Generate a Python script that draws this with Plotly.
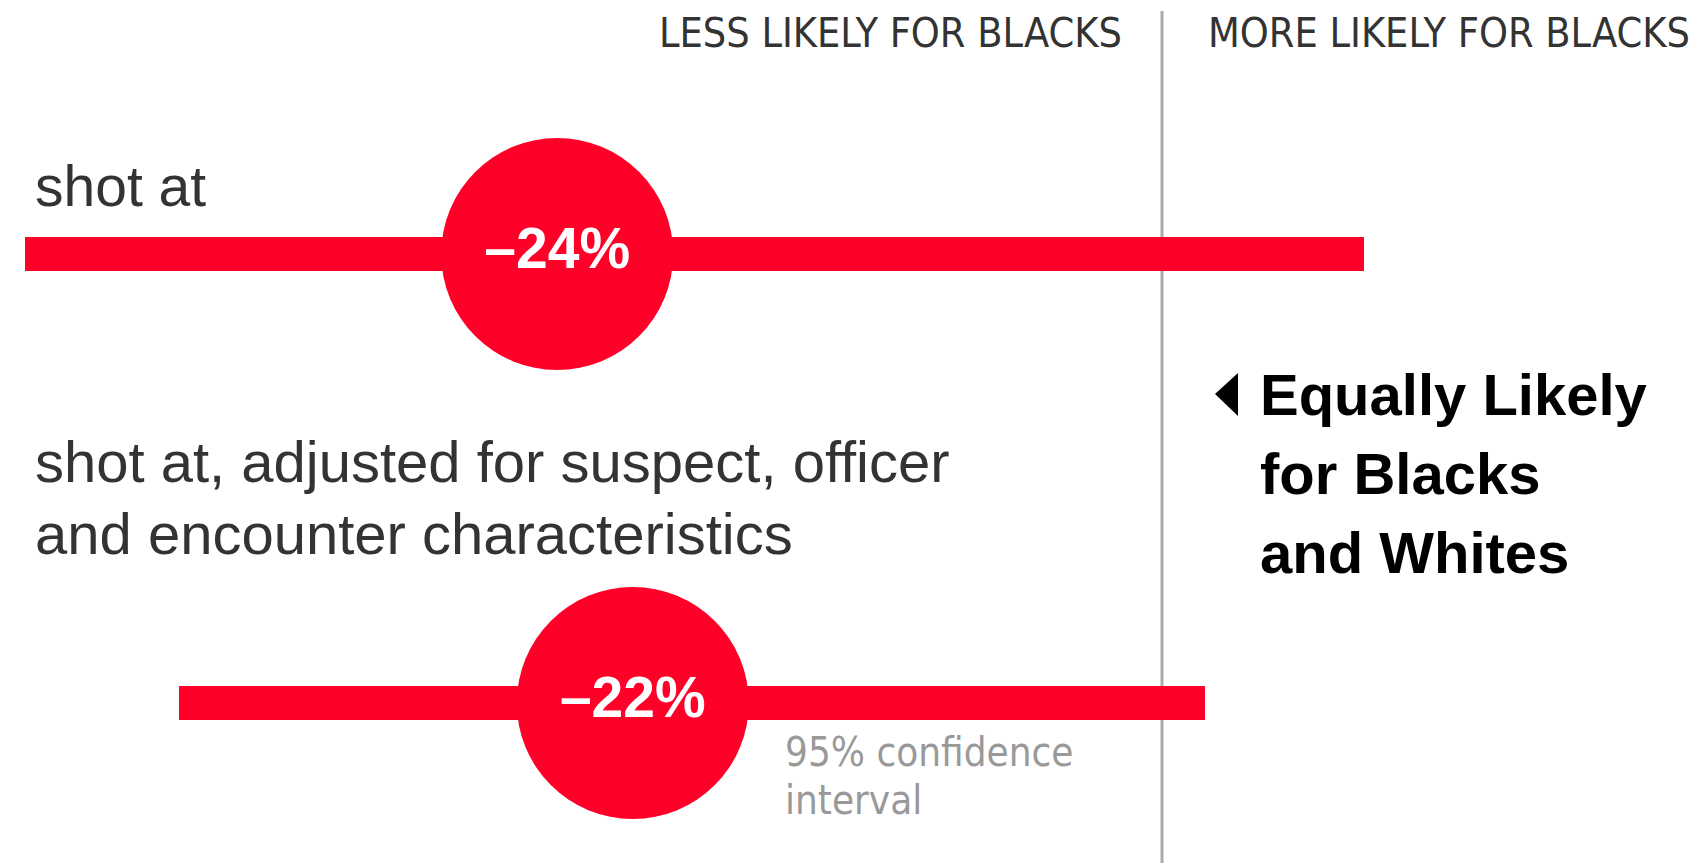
import plotly.graph_objects as go

# the page body has an 8px margin, so the figure is drawn inside it
OFF = 8
W, H = 1702 - OFF, 863 - OFF

# data: percent change in odds
rows = [0, 1]
row_labels = ['shot at', 'shot at, adjusted for suspect, officer<br>and encounter characteristics']
estimate = [-24, -21]
estimate_text = ['–24%', '–22%']
ci_low = [-45.1, -39.0]
ci_high = [8.0, 1.7]
note_lines = ['Equally Likely', 'for Blacks', 'and Whites']
ci_note_lines = ['95% confidence', 'interval']

RED = '#ff0029'


# page pixel -> paper coordinates
def px(x):
    return (x - OFF) / W


def py(y):
    return 1 - (y - OFF) / H


fig = go.Figure()

# confidence interval bars
fig.add_trace(go.Bar(
    y=rows, x=[hi - lo for lo, hi in zip(ci_low, ci_high)], base=ci_low,
    orientation='h', width=34 / 449, marker=dict(color=RED, line=dict(width=0)),
    hoverinfo='skip', showlegend=False))

# point estimates
fig.add_trace(go.Scatter(
    x=estimate, y=rows, mode='markers+text', text=estimate_text,
    textposition='middle center',
    textfont=dict(family='Liberation Sans, Arial, sans-serif', size=57, color='white', weight='bold'),
    marker=dict(size=232, color=RED, line=dict(width=0)),
    hoverinfo='skip', showlegend=False))

zero_px = 1162 - OFF
row0_px = 254 - OFF
fig.update_layout(
    width=W, height=H, margin=dict(l=0, r=0, t=0, b=0),
    paper_bgcolor='white', plot_bgcolor='white',
    xaxis=dict(range=[-zero_px / 25.2, (W - zero_px) / 25.2], visible=False, fixedrange=True),
    yaxis=dict(range=[(H - row0_px) / 449, -row0_px / 449], visible=False, fixedrange=True),
    bargap=0,
)

# zero line
fig.add_shape(type='line', xref='x', yref='paper', x0=0, x1=0, y0=0, y1=py(11),
              line=dict(color='#aaaaaa', width=3), layer='below')

narrow = 'Liberation Sans Narrow, DejaVu Sans Condensed, Arial Narrow, Liberation Sans, sans-serif'
regular = 'Liberation Sans, Arial, sans-serif'


def label(text, x, y, size, color, family=regular, anchor='left', weight='normal'):
    fig.add_annotation(text=text, xref='paper', yref='paper', x=px(x), y=py(y),
                       xanchor=anchor, yanchor='middle', showarrow=False, align=anchor,
                       font=dict(family=family, size=size, color=color, weight=weight))


label('LESS LIKELY FOR BLACKS', 1124, 33, 41, '#333333', family=narrow, anchor='right')
label('MORE LIKELY FOR BLACKS', 1206, 33, 41, '#333333', family=narrow)

# row labels
label(row_labels[0], 33, 186, 57, '#333333')
for i, line in enumerate(row_labels[1].split('<br>')):
    label(line, 33, 462 + i * 71, 58, '#333333')

# equally likely note
for i, line in enumerate(note_lines):
    label(line, 1258, 394 + i * 79, 58, 'black', weight='bold')
fig.add_shape(type='path', xref='paper', yref='paper',
              path='M %f,%f L %f,%f L %f,%f Z' % (px(1215), py(394), px(1238), py(373), px(1238), py(416)),
              fillcolor='black', line=dict(width=0))

# ci note
for i, line in enumerate(ci_note_lines):
    label(line, 783, 752 + i * 48, 40, '#999999', family=narrow)

fig.write_html('out.html')
